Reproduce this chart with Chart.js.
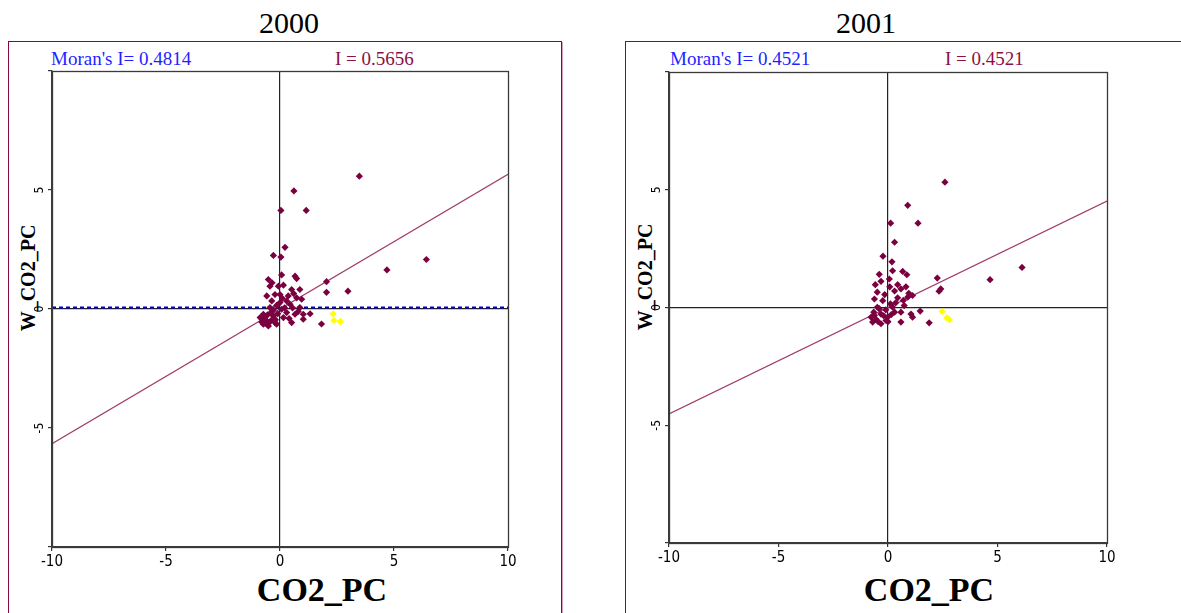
<!DOCTYPE html>
<html><head><meta charset="utf-8">
<script src="https://cdn.jsdelivr.net/npm/chart.js@4/dist/chart.umd.min.js"></script>
<style>
body{margin:0;width:1181px;height:613px;background:#fff;position:relative;overflow:hidden;font-family:'Liberation Serif','Times New Roman',serif;}
.frame{position:absolute;top:41px;height:640px;border:1px solid #800a46;box-shadow:1px 1px 0 #d9a0bc;}
canvas{position:absolute;}
.t{position:absolute;white-space:nowrap;line-height:1em;transform:translateX(-50%);}
.yr{font-size:30px;color:#000;top:8px;}
.mi{font-size:19px;color:#1f1fff;top:49px;transform:none;}
.ii{font-size:19px;color:#8a1048;top:49px;transform:none;}
.xt{font-size:34px;font-weight:bold;top:573px;color:#000;}
.yt{font-size:20px;font-weight:bold;color:#000;transform:translate(-50%,-50%) rotate(-90deg);}
</style></head>
<body>
<div class="frame" style="left:8px;width:552px;"></div>
<div class="frame" style="left:625px;width:600px;"></div>
<div class="t yr" style="left:289px;">2000</div>
<div class="t yr" style="left:866px;">2001</div>
<div class="t mi" style="left:51px;">Moran's I= 0.4814</div>
<div class="t ii" style="left:335px;">I = 0.5656</div>
<div class="t mi" style="left:670px;">Moran's I= 0.4521</div>
<div class="t ii" style="left:945px;">I = 0.4521</div>
<div class="t xt" style="left:322px;">CO2_PC</div>
<div class="t xt" style="left:929px;">CO2_PC</div>
<div class="t yt" style="left:28px;top:278px;">W_CO2_PC</div>
<div class="t yt" style="left:645px;top:277px;">W_CO2_PC</div>
<canvas id="c2000" width="551" height="571" style="left:9px;top:42px;"></canvas>
<canvas id="c2001" width="555" height="571" style="left:626px;top:42px;"></canvas>
<script>
// ---- data ----
const xTicks = [-10, -5, 0, 5, 10];
const yTicks = [-5, 0, 5];

const x2000 = [3.48,0.61,0.04,1.15,0.22,-0.29,0.04,6.42,4.69,2.04,2.04,2.98,1.82,1.32,
  -0.51,0.07,0.66,0.73,-0.44,-0.07,0.51,0.87,-0.58,-0.22,0.36,0.73,0.95,-0.36,0.00,0.44,0.87,-0.44,
  -0.73,-0.29,0.29,0.66,1.02,-0.58,-0.22,-0.73,0.15,0.51,1.02,0.07,-0.87,-0.51,-0.66,-0.36,-0.15,-0.29,0.29,0.00,
  -0.80,-0.60,-0.45,-0.70,-0.55,-0.40,-0.20,-0.10,0.20,0.10,-0.15,0.55,0.40,0.80,0.60,-0.35,0.15];
const y2000 = [5.58,4.96,4.14,4.14,2.59,2.25,2.18,2.08,1.64,1.15,0.70,0.75,-0.63,-0.20,
  1.24,1.43,1.38,1.28,0.96,0.96,0.82,0.82,0.55,0.61,0.55,0.47,0.41,0.34,0.27,0.20,0.06,0.06,
  -0.22,-0.29,-0.15,-0.22,-0.22,-0.50,-0.57,-0.64,-0.36,-0.57,-0.43,-0.01,-0.36,-0.71,-0.36,-0.46,-0.64,-0.03,0.34,0.61,
  -0.55,-0.62,-0.55,-0.45,-0.25,-0.15,-0.45,-0.20,0.05,0.45,0.15,0.05,-0.40,-0.10,0.65,1.10,1.00];
const xHi2000 = [2.33, 2.37, 2.65];
const yHi2000 = [-0.20, -0.48, -0.53];
const slope2000 = 0.5656;
const refLine2000 = 0.06;

const x2001 = [2.60,0.90,0.12,1.37,0.30,-0.23,0.18,6.12,4.66,2.25,2.41,2.33,1.88,1.47,
  0.21,0.67,0.86,-0.40,-0.58,-0.32,0.06,0.08,0.44,0.82,0.59,-0.49,1.12,0.90,0.44,-0.62,-0.24,0.11,0.74,-0.49,
  0.59,1.05,-0.62,-0.32,-0.02,0.30,-0.70,-0.32,-0.09,0.59,1.12,-0.77,0.21,
  -0.55,-0.45,-0.65,-0.20,-0.10,0.00,-0.40,0.15,0.35,-0.15,0.30,0.95,0.70];
const y2001 = [5.32,4.34,3.58,3.58,2.77,2.18,1.94,1.70,1.18,1.25,0.79,0.69,-0.65,-0.15,
  1.56,1.53,1.39,1.41,0.97,1.11,1.21,0.88,0.97,0.88,0.79,0.65,0.51,0.44,0.41,0.36,0.29,0.15,0.08,0.01,
  -0.20,-0.28,-0.34,-0.28,-0.41,-0.20,-0.62,-0.69,-0.55,-0.62,-0.41,-0.41,0.01,
  -0.50,-0.60,-0.20,-0.35,-0.10,-0.60,-0.05,-0.30,0.20,0.55,0.70,0.60,0.30];
const xHi2001 = [2.47, 2.69, 2.81];
const yHi2001 = [-0.17, -0.44, -0.52];
const slope2001 = 0.4521;

// ---- drawing ----
const tickFont = {family: "'Liberation Sans Narrow','DejaVu Sans Condensed','Liberation Sans',sans-serif", size: 15};
const yTickFont = {family: "'Liberation Sans Narrow','DejaVu Sans Condensed','Liberation Sans',sans-serif", size: 12};

const boxPlugin = {
  id: 'box',
  afterDraw(chart) {
    const a = chart.chartArea, c = chart.ctx;
    c.save();
    c.strokeStyle = '#3a3a3a';
    c.lineWidth = 1.3;
    c.strokeRect(Math.round(a.left) + 0.5, Math.round(a.top) + 0.5, Math.round(a.right - a.left), Math.round(a.bottom - a.top));
    c.restore();
  }
};

function pts(xs, ys) { return xs.map((x, i) => ({x: x, y: ys[i]})); }

function makeChart(id, xs, ys, hx, hy, slope, refY, dims) {
  const datasets = [
    {type: 'scatter', data: pts(xs, ys), pointStyle: 'rectRot', pointRadius: 3.6, pointBorderWidth: 0,
     backgroundColor: '#7a0040', borderColor: '#7a0040', order: 0},
    {type: 'scatter', data: pts(hx, hy), pointStyle: 'rectRot', pointRadius: 3.6, pointBorderWidth: 0,
     backgroundColor: '#ffff00', borderColor: '#ffff00', order: 0},
    {type: 'line', data: [{x: xTicks[0], y: xTicks[0] * slope}, {x: xTicks[xTicks.length - 1], y: xTicks[xTicks.length - 1] * slope}],
     borderColor: '#a03c6c', borderWidth: 1.2, pointRadius: 0, fill: false, order: 2}
  ];
  if (refY !== null) {
    datasets.push({type: 'line', data: [{x: xTicks[0], y: refY}, {x: xTicks[xTicks.length - 1], y: refY}],
      borderColor: '#0000cc', borderWidth: 2, borderDash: [4, 3], pointRadius: 0, fill: false, order: 1});
  }
  new Chart(document.getElementById(id), {
    data: {datasets: datasets},
    plugins: [boxPlugin],
    options: {
      responsive: false, animation: false, devicePixelRatio: 1,
      layout: {padding: {left: 0, top: dims.top, right: dims.right, bottom: 0}},
      plugins: {legend: {display: false}, tooltip: {enabled: false}},
      scales: {
        x: {
          type: 'linear', min: -10, max: 10,
          afterBuildTicks: s => { s.ticks = xTicks.map(v => ({value: v})); },
          afterFit: s => { s.height = dims.xh; },
          ticks: {font: tickFont, color: '#000', padding: 2, maxRotation: 0, autoSkip: false},
          grid: {color: c => (c.tick && c.tick.value === 0) ? '#222' : 'rgba(0,0,0,0)', lineWidth: 1.2,
                 tickColor: '#333', tickLength: 4, drawTicks: true},
          border: {display: true, color: '#3a3a3a', width: 1.3}
        },
        y: {
          type: 'linear', min: -10, max: 10,
          afterBuildTicks: s => { s.ticks = [-10].concat(yTicks, [10]).map(v => ({value: v})); },
          afterFit: s => { s.width = dims.yw; },
          ticks: {font: yTickFont, color: '#000', padding: 3, minRotation: 90, maxRotation: 90, crossAlign: 'center',
                  autoSkip: false, callback: v => (yTicks.indexOf(v) >= 0 ? String(v) : '')},
          grid: {color: c => (c.tick && c.tick.value === 0) ? '#222' : 'rgba(0,0,0,0)', lineWidth: 1.2,
                 tickColor: '#333', tickLength: 4, drawTicks: true},
          border: {display: true, color: '#3a3a3a', width: 1.3}
        }
      }
    }
  });
}

makeChart('c2000', x2000, y2000, xHi2000, yHi2000, slope2000, refLine2000, {top: 29, right: 52, xh: 66, yw: 43});
makeChart('c2001', x2001, y2001, xHi2001, yHi2001, slope2001, null, {top: 30, right: 74, xh: 70, yw: 43});
</script>
</body></html>
